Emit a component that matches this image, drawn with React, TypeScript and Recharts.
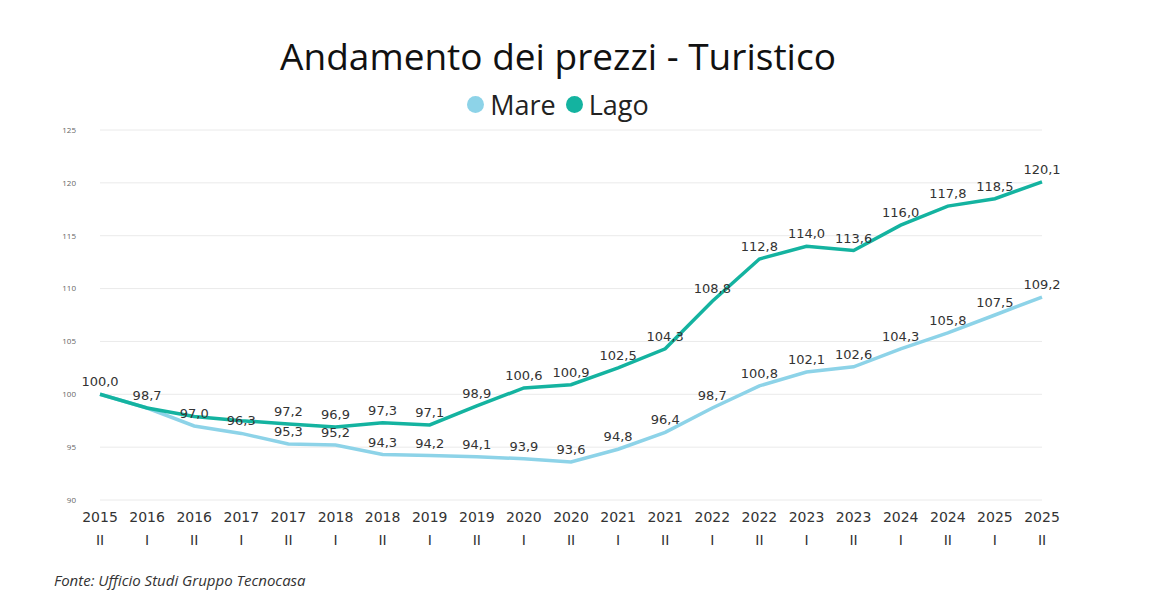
import React from "react";
import { LineChart, Line, XAxis, YAxis, CartesianGrid, LabelList } from "recharts";

const years = ["2015","2016","2016","2017","2017","2018","2018","2019","2019","2020","2020","2021","2021","2022","2022","2023","2023","2024","2024","2025","2025"];
const halves = ["II","I","II","I","II","I","II","I","II","I","II","I","II","I","II","I","II","I","II","I","II"];
const mare = [100.0,98.7,97.0,96.3,95.3,95.2,94.3,94.2,94.1,93.9,93.6,94.8,96.4,98.7,100.8,102.1,102.6,104.3,105.8,107.5,109.2];
const lago = [100.0,98.7,97.9,97.5,97.2,96.9,97.3,97.1,98.9,100.6,100.9,102.5,104.3,108.8,112.8,114.0,113.6,116.0,117.8,118.5,120.1];
const lagoHiddenLabels = [0,1,2,3];
const yTicks = [90,95,100,105,110,115,120,125];

const data = years.map((y, i) => ({ key: i, year: y, half: halves[i], mare: mare[i], lago: lago[i] }));

const fmt = (v: number) => v.toFixed(1).replace(".", ",");

const XTick = (props: any) => {
  const { x, y, payload } = props;
  const d = data[payload.value];
  return (
    <g transform={`translate(${x},${y})`}>
      <text x={0} y={0} dy={14} textAnchor="middle" fontSize={14} fill="#333" fontFamily="'DejaVu Sans', sans-serif">{d.year}</text>
      <text x={0} y={0} dy={37} textAnchor="middle" fontSize={14} fill="#333" fontFamily="'DejaVu Sans', sans-serif">{d.half}</text>
    </g>
  );
};

const makeLabel = (hidden: number[]) => (props: any) => {
  const { x, y, value, index } = props;
  if (hidden.includes(index)) return null;
  return <text x={x} y={y - 8} textAnchor="middle" fontSize={13} fill="#333" fontFamily="'DejaVu Sans', sans-serif">{fmt(value)}</text>;
};

export default function App() {
  return (
    <div style={{ position: "relative", width: 1154, height: 588, fontFamily: "'Open Sans', sans-serif", background: "#fff" }}>
      <div style={{ position: "absolute", left: 0, width: 1100, top: 22, textAlign: "center", fontSize: 37, color: "#111" }}>
        Andamento dei prezzi - Turistico
      </div>
      <div style={{ position: "absolute", left: 0, width: 1100, top: 78, textAlign: "center", fontSize: 27, color: "#222", display: "flex", justifyContent: "center", alignItems: "center", gap: 6 }}>
        <span style={{ display: "inline-block", width: 17, height: 17, borderRadius: 9, background: "#8dd3e8" }} />
        <span>Mare</span>
        <span style={{ display: "inline-block", width: 17, height: 17, borderRadius: 9, background: "#14b3a0", marginLeft: 4 }} />
        <span>Lago</span>
      </div>
      <div style={{ position: "absolute", top: 0, left: 0 }}>
        <LineChart width={1154} height={560} data={data} margin={{ top: 122, right: 120, bottom: 0, left: 0 }}>
          <CartesianGrid vertical={false} stroke="#eaeaea" />
          <XAxis dataKey="key" tick={<XTick />} tickLine={false} axisLine={false} interval={0} height={68} />
          <YAxis domain={[90, 125]} ticks={yTicks} width={92} tickLine={false} axisLine={false} tick={{ fontSize: 8, fill: "#666" }} tickMargin={18} />
          <Line type="linear" dataKey="mare" stroke="#8dd3e8" strokeWidth={3.5} dot={false} isAnimationActive={false}>
            <LabelList dataKey="mare" content={makeLabel([])} />
          </Line>
          <Line type="linear" dataKey="lago" stroke="#14b3a0" strokeWidth={3.5} dot={false} isAnimationActive={false}>
            <LabelList dataKey="lago" content={makeLabel(lagoHiddenLabels)} />
          </Line>
        </LineChart>
      </div>
      <div style={{ position: "absolute", left: 46, top: 562, fontSize: 15, fontStyle: "italic", color: "#333" }}>
        Fonte: Ufficio Studi Gruppo Tecnocasa
      </div>
    </div>
  );
}
